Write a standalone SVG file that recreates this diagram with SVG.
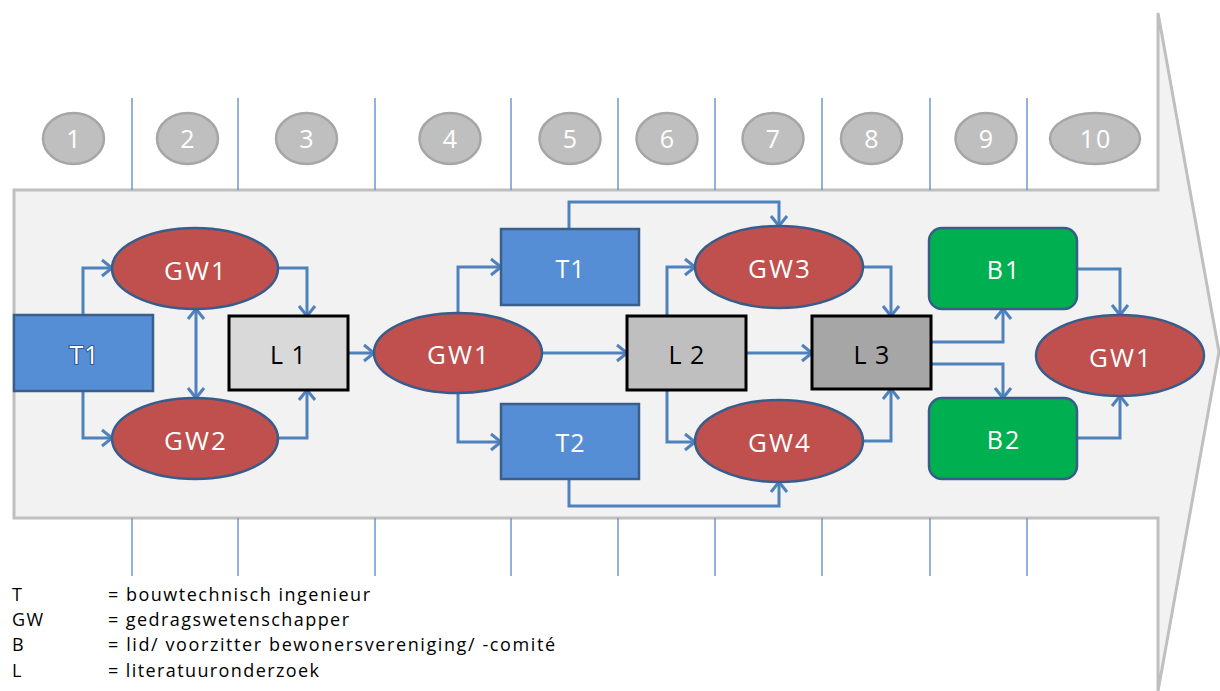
<svg xmlns="http://www.w3.org/2000/svg" width="1220" height="691" viewBox="0 0 1220 691">
  <style>
    .lbl { font-family: "Open Sans", "Liberation Sans", sans-serif; font-size: 25px; text-anchor: middle; }
    .sp { font-size: 26px; letter-spacing: 2px; }
    .w { fill: #ffffff; }
    .k { fill: #000000; }
    .num { fill: #bfbfbf; stroke: #a6a6a6; stroke-width: 2.5; }
    .div { stroke: #6f97cf; stroke-width: 1.5; }
    .gw { fill: #c0504d; stroke: #385d8a; stroke-width: 2.5; }
    .t { fill: #558ed5; stroke: #3a5f8b; stroke-width: 2.5; }
    .b { fill: #00b050; stroke: #385d8a; stroke-width: 2.5; }
    .lit { stroke: #000000; stroke-width: 3; }
    .edge { fill: none; stroke: #4f81bd; stroke-width: 3; marker-end: url(#arr); }
    .legend { font-family: "Open Sans", "Liberation Sans", sans-serif; font-size: 18px; fill: #000000; }
  </style>
  <defs>
    <marker id="arr" markerUnits="userSpaceOnUse" markerWidth="24" markerHeight="24" viewBox="-14 -12 16 24" refX="0" refY="0" orient="auto-start-reverse">
      <path d="M -10 -8 L 0 0 L -10 8" fill="none" stroke="#4f81bd" stroke-width="3" stroke-linejoin="miter"/>
    </marker>
  </defs>

  <rect width="1220" height="691" fill="#ffffff"/>

  <!-- process arrow -->
  <polygon points="14,190 1158,190 1158,13 1219,352 1158,691 1158,518 14,518" fill="#f2f2f2" stroke="#bfbfbf" stroke-width="3"/>

  <!-- column dividers -->
  <g id="dividers">
    <line class="div" x1="132" y1="98" x2="132" y2="190"/>
    <line class="div" x1="238" y1="98" x2="238" y2="190"/>
    <line class="div" x1="375" y1="98" x2="375" y2="190"/>
    <line class="div" x1="511" y1="98" x2="511" y2="190"/>
    <line class="div" x1="618" y1="98" x2="618" y2="190"/>
    <line class="div" x1="715" y1="98" x2="715" y2="190"/>
    <line class="div" x1="822" y1="98" x2="822" y2="190"/>
    <line class="div" x1="930" y1="98" x2="930" y2="190"/>
    <line class="div" x1="1027" y1="98" x2="1027" y2="190"/>
    <line class="div" x1="132" y1="518" x2="132" y2="576"/>
    <line class="div" x1="238" y1="518" x2="238" y2="576"/>
    <line class="div" x1="375" y1="518" x2="375" y2="576"/>
    <line class="div" x1="511" y1="518" x2="511" y2="576"/>
    <line class="div" x1="618" y1="518" x2="618" y2="576"/>
    <line class="div" x1="715" y1="518" x2="715" y2="576"/>
    <line class="div" x1="822" y1="518" x2="822" y2="576"/>
    <line class="div" x1="930" y1="518" x2="930" y2="576"/>
    <line class="div" x1="1027" y1="518" x2="1027" y2="576"/>
  </g>

  <!-- step numbers -->
  <g id="steps">
    <ellipse class="num" cx="73.5" cy="138.5" rx="30.5" ry="25.5"/><text class="lbl w" x="73.5" y="147.5">1</text>
    <ellipse class="num" cx="187.5" cy="138.5" rx="30.5" ry="25.5"/><text class="lbl w" x="187.5" y="147.5">2</text>
    <ellipse class="num" cx="306.5" cy="138.5" rx="30.5" ry="25.5"/><text class="lbl w" x="306.5" y="147.5">3</text>
    <ellipse class="num" cx="450" cy="138.5" rx="30.5" ry="25.5"/><text class="lbl w" x="450" y="147.5">4</text>
    <ellipse class="num" cx="570" cy="138.5" rx="30.5" ry="25.5"/><text class="lbl w" x="570" y="147.5">5</text>
    <ellipse class="num" cx="667" cy="138.5" rx="30.5" ry="25.5"/><text class="lbl w" x="667" y="147.5">6</text>
    <ellipse class="num" cx="773" cy="138.5" rx="30.5" ry="25.5"/><text class="lbl w" x="773" y="147.5">7</text>
    <ellipse class="num" cx="871.5" cy="138.5" rx="30.5" ry="25.5"/><text class="lbl w" x="871.5" y="147.5">8</text>
    <ellipse class="num" cx="986" cy="138.5" rx="30.5" ry="25.5"/><text class="lbl w" x="986" y="147.5">9</text>
    <ellipse class="num" cx="1095" cy="138.5" rx="45" ry="25.5"/><text class="lbl w" x="1096" y="147.5" letter-spacing="2">10</text>
  </g>

  <!-- connectors -->
  <g id="connectors">
    <polyline class="edge" points="83,314 83,268 112,268"/>
    <polyline class="edge" points="83,391 83,438 112,438"/>
    <line class="edge" x1="196" y1="309" x2="196" y2="398" marker-start="url(#arr)"/>
    <polyline class="edge" points="278,268 307,268 307,316"/>
    <polyline class="edge" points="278,438 307,438 307,390"/>
    <line class="edge" x1="348" y1="353" x2="374" y2="353"/>

    <polyline class="edge" points="458,313 458,267 501,267"/>
    <polyline class="edge" points="458,393 458,442 501,442"/>
    <line class="edge" x1="542" y1="353" x2="627" y2="353"/>
    <polyline class="edge" points="569,229 569,202 779,202 779,226"/>
    <polyline class="edge" points="569,479 569,506 779,506 779,482"/>
    <polyline class="edge" points="667,316 667,267 695,267"/>
    <polyline class="edge" points="667,390 667,442 695,442"/>
    <line class="edge" x1="746" y1="353" x2="812" y2="353"/>

    <polyline class="edge" points="863,267 891,267 891,316"/>
    <polyline class="edge" points="863,441 891,441 891,389"/>
    <polyline class="edge" points="931,342 1003,342 1003,309"/>
    <polyline class="edge" points="931,364 1003,364 1003,398"/>
    <polyline class="edge" points="1077,269 1120,269 1120,315"/>
    <polyline class="edge" points="1077,438 1120,438 1120,396"/>
  </g>

  <!-- nodes -->
  <g id="t1a">
    <rect class="t" x="14" y="315" width="139" height="76"/>
    <text class="lbl w" x="84.5" y="364" stroke="#2f5a96" stroke-width="2.2" paint-order="stroke" letter-spacing="1">T1</text>
  </g>
  <g id="gw1a">
    <ellipse class="gw" cx="195" cy="268.5" rx="83" ry="40.5"/>
    <text class="lbl w sp" x="196" y="279.5">GW1</text>
  </g>
  <g id="gw2">
    <ellipse class="gw" cx="195" cy="438.5" rx="83" ry="40.5"/>
    <text class="lbl w sp" x="196" y="449.5">GW2</text>
  </g>
  <g id="l1">
    <rect class="lit" x="229" y="316" width="119" height="74" fill="#d9d9d9"/>
    <text class="lbl k" x="288.5" y="364" letter-spacing="1">L 1</text>
  </g>
  <g id="gw1b">
    <ellipse class="gw" cx="458" cy="353" rx="84" ry="40"/>
    <text class="lbl w sp" x="459" y="364">GW1</text>
  </g>
  <g id="t1b">
    <rect class="t" x="501" y="229" width="138" height="76"/>
    <text class="lbl w" x="570.5" y="277.5" letter-spacing="1">T1</text>
  </g>
  <g id="t2">
    <rect class="t" x="501" y="404" width="138" height="75"/>
    <text class="lbl w" x="570.5" y="452" letter-spacing="1">T2</text>
  </g>
  <g id="l2">
    <rect class="lit" x="627" y="316" width="119" height="74" fill="#bfbfbf"/>
    <text class="lbl k" x="687" y="364" letter-spacing="1">L 2</text>
  </g>
  <g id="gw3">
    <ellipse class="gw" cx="779" cy="267" rx="84" ry="41"/>
    <text class="lbl w sp" x="780" y="278">GW3</text>
  </g>
  <g id="gw4">
    <ellipse class="gw" cx="779" cy="441" rx="84" ry="41"/>
    <text class="lbl w sp" x="780" y="452">GW4</text>
  </g>
  <g id="l3">
    <rect class="lit" x="812" y="316" width="119" height="73" fill="#a6a6a6"/>
    <text class="lbl k" x="872" y="364" letter-spacing="1">L 3</text>
  </g>
  <g id="b1">
    <rect class="b" x="929" y="228" width="148" height="81" rx="13"/>
    <text class="lbl w" x="1004" y="279" letter-spacing="2">B1</text>
  </g>
  <g id="b2">
    <rect class="b" x="929" y="398" width="148" height="81" rx="13"/>
    <text class="lbl w" x="1004" y="449" letter-spacing="2">B2</text>
  </g>
  <g id="gw1c">
    <ellipse class="gw" cx="1120" cy="355.5" rx="84" ry="40.5"/>
    <text class="lbl w sp" x="1121" y="366.5">GW1</text>
  </g>

  <!-- legend -->
  <g id="legend">
    <text class="legend" x="12" y="601">T</text>
    <text class="legend" x="108" y="601" textLength="262">= bouwtechnisch ingenieur</text>
    <text class="legend" x="12" y="626" textLength="31">GW</text>
    <text class="legend" x="108" y="626" textLength="241">= gedragswetenschapper</text>
    <text class="legend" x="12" y="651">B</text>
    <text class="legend" x="108" y="651" textLength="447">= lid/ voorzitter bewonersvereniging/ -comité</text>
    <text class="legend" x="12" y="677">L</text>
    <text class="legend" x="108" y="677" textLength="211">= literatuuronderzoek</text>
  </g>
</svg>
